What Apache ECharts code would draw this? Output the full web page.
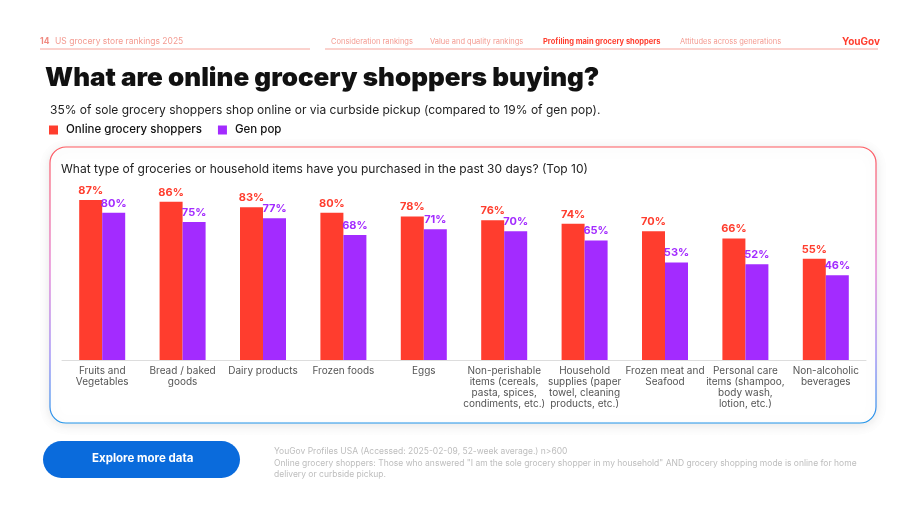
<!DOCTYPE html>
<html>
<head>
<meta charset="utf-8">
<script src="https://cdn.jsdelivr.net/npm/echarts@6/dist/echarts.min.js"></script>
<style>
  html, body { margin: 0; padding: 0; background: #fff; }
  #main { width: 920px; height: 518px; }
</style>
</head>
<body>
<div id="main"></div>
<script>
var categories = [
    'Fruits and\nVegetables',
    'Bread / baked\ngoods',
    'Dairy products',
    'Frozen foods',
    'Eggs',
    'Non-perishable\nitems (cereals,\npasta, spices,\ncondiments, etc.)',
    'Household\nsupplies (paper\ntowel, cleaning\nproducts, etc.)',
    'Frozen meat and\nSeafood',
    'Personal care\nitems (shampoo,\nbody wash,\nlotion, etc.)',
    'Non-alcoholic\nbeverages'
];
var onlineShoppers = [87, 86, 83, 80, 78, 76, 74, 70, 66, 55];
var genPop = [80, 75, 77, 68, 71, 70, 65, 53, 52, 46];
var seriesNames = ['Online grocery shoppers', 'Gen pop'];

var RED = '#ff3d2e';
var PURPLE = '#a32bff';
var FONT = 'Inter, "Noto Sans", sans-serif';

var chart = echarts.init(document.getElementById('main'));

var navStyle = { fontSize: 7.5, fill: '#f39a90', fontFamily: FONT };

var option = {
    backgroundColor: '#fff',
    textStyle: { fontFamily: FONT },
    title: [
        {
            text: 'What are online grocery shoppers buying?',
            left: 45, top: 65, padding: 0,
            textStyle: { fontSize: 26, fontWeight: 900, color: '#111', fontFamily: FONT }
        },
        {
            text: '35% of sole grocery shoppers shop online or via curbside pickup (compared to 19% of gen pop).',
            left: 50, top: 104, padding: 0,
            textStyle: { fontSize: 12, fontWeight: 'normal', color: '#222', fontFamily: FONT }
        },
        {
            text: 'What type of groceries or household items have you purchased in the past 30 days? (Top 10)',
            left: 61, top: 163, padding: 0,
            textStyle: { fontSize: 12, fontWeight: 'normal', color: '#222', fontFamily: FONT }
        }
    ],
    legend: {
        data: seriesNames,
        left: 49, top: 124, padding: 0,
        icon: 'rect',
        itemWidth: 9, itemHeight: 9, itemGap: 16,
        textStyle: { fontSize: 11.5, fontWeight: 500, color: '#111', fontFamily: FONT, padding: [0, 0, 0, 3] }
    },
    grid: { left: 62, right: 54, top: 176, bottom: 158 },
    xAxis: {
        type: 'category',
        data: categories,
        axisLine: { lineStyle: { color: '#dddddd' } },
        axisTick: { show: false },
        axisLabel: {
            interval: 0, color: '#555', fontSize: 10, lineHeight: 11,
            margin: 5, fontFamily: FONT
        }
    },
    yAxis: {
        type: 'value', min: 0, max: 100,
        show: false
    },
    series: [
        {
            name: seriesNames[0], type: 'bar', data: onlineShoppers,
            barWidth: 23, barGap: '0%',
            itemStyle: { color: RED },
            label: {
                show: true, position: 'top', distance: 4,
                formatter: '{c}%', color: RED, fontSize: 11, fontWeight: 'bold', fontFamily: FONT
            }
        },
        {
            name: seriesNames[1], type: 'bar', data: genPop,
            barWidth: 23,
            itemStyle: { color: PURPLE },
            label: {
                show: true, position: 'top', distance: 4,
                formatter: '{c}%', color: PURPLE, fontSize: 11, fontWeight: 'bold', fontFamily: FONT
            }
        }
    ],
    graphic: [
        // header
        { type: 'text', left: 40, top: 37, style: { text: '14', fontSize: 8.5, fontWeight: 'bold', fill: '#f08a80', fontFamily: FONT } },
        { type: 'text', left: 55, top: 37, style: { text: 'US grocery store rankings 2025', fontSize: 8.5, fill: '#f39a90', fontFamily: FONT } },
        { type: 'line', shape: { x1: 40, y1: 49, x2: 310, y2: 49 }, style: { stroke: '#f7a59c', lineWidth: 1 } },
        { type: 'line', shape: { x1: 325, y1: 49, x2: 878, y2: 49 }, style: { stroke: '#f7a59c', lineWidth: 1 } },
        { type: 'text', left: 331, top: 38, style: Object.assign({ text: 'Consideration rankings' }, navStyle) },
        { type: 'text', left: 430, top: 38, style: Object.assign({ text: 'Value and quality rankings' }, navStyle) },
        { type: 'text', left: 543, top: 38, style: { text: 'Profiling main grocery shoppers', fontSize: 7.5, fontWeight: 'bold', fill: '#ff3d2e', fontFamily: FONT } },
        { type: 'text', left: 680, top: 38, style: Object.assign({ text: 'Attitudes across generations' }, navStyle) },
        { type: 'text', left: 842, top: 37, style: { text: 'YouGov', fontSize: 10, fontWeight: 'bold', fill: '#ff3d2e', fontFamily: FONT } },
        // card
        {
            type: 'rect', z: -10,
            shape: { x: 50, y: 147, width: 826, height: 276, r: 16 },
            style: {
                fill: '#fff',
                lineWidth: 1.2,
                stroke: new echarts.graphic.LinearGradient(0, 0, 0, 1, [
                    { offset: 0, color: '#ff5a5f' },
                    { offset: 0.45, color: '#e06fd0' },
                    { offset: 0.75, color: '#8f7cf5' },
                    { offset: 1, color: '#1f95ea' }
                ]),
                shadowBlur: 12, shadowColor: 'rgba(0,0,0,0.10)', shadowOffsetY: 2
            }
        },
        // button
        {
            type: 'rect',
            shape: { x: 43, y: 441, width: 197, height: 37, r: 18.5 },
            style: { fill: '#0a6bdc' }
        },
        {
            type: 'text', left: 92, top: 453,
            style: { text: 'Explore more data', fontSize: 11.5, fontWeight: 'bold', fill: '#fff', fontFamily: FONT }
        },
        // footnote
        {
            type: 'text', left: 274, top: 446,
            style: {
                text: 'YouGov Profiles USA (Accessed: 2025-02-09, 52-week average.) n>600\n' +
                      'Online grocery shoppers: Those who answered "I am the sole grocery shopper in my household" AND grocery shopping mode is online for home\n' +
                      'delivery or curbside pickup.',
                fontSize: 8.5, lineHeight: 11.5, fill: '#bdbdbd', fontFamily: FONT
            }
        }
    ]
};

chart.setOption(option);
</script>
</body>
</html>
